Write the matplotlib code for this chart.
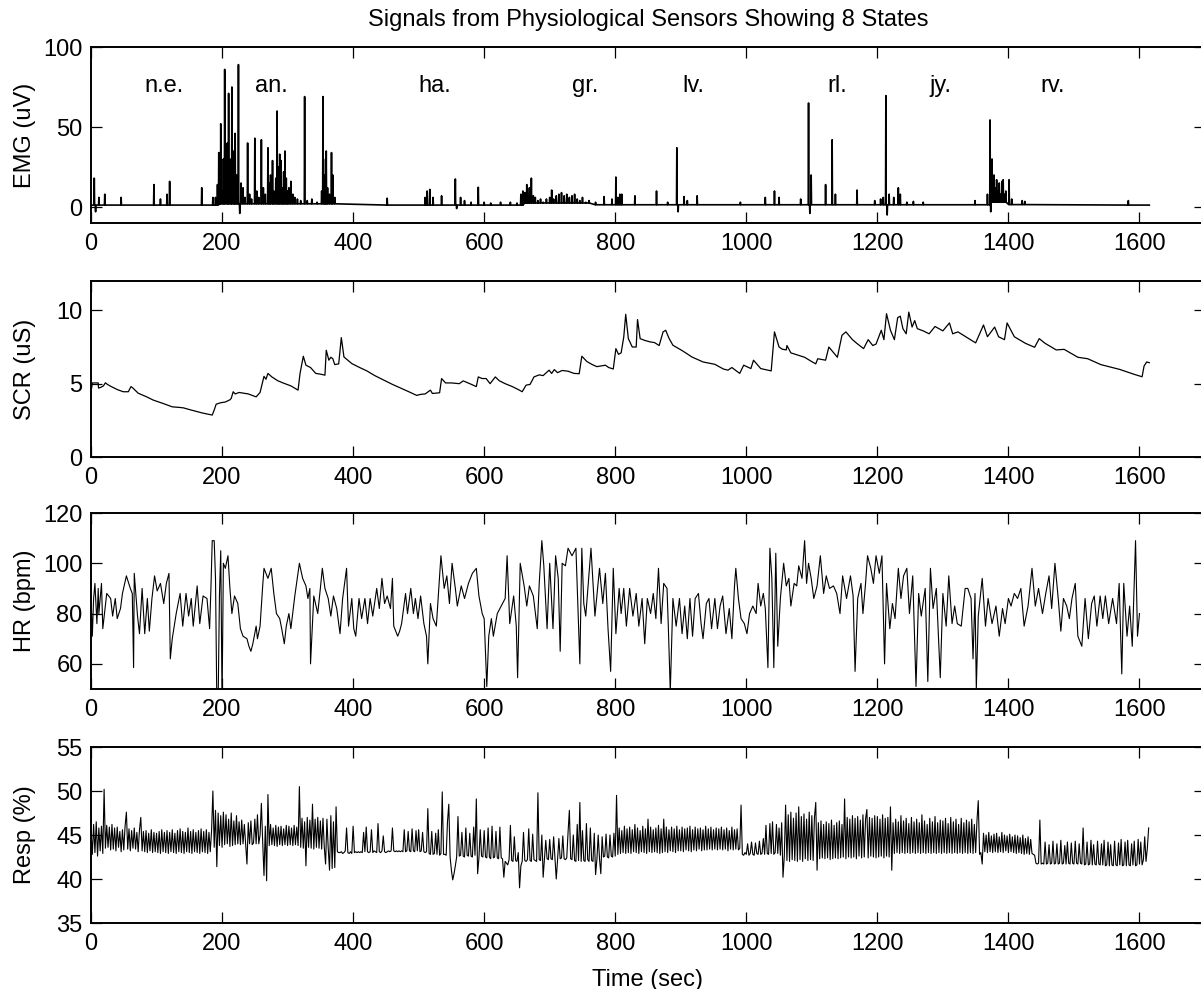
import numpy as np
import matplotlib
matplotlib.use('Agg')
import matplotlib.pyplot as plt

plt.rcParams['font.family'] = ['Liberation Sans', 'DejaVu Sans']

# ---- data ----
title = 'Signals from Physiological Sensors Showing 8 States'
state_names = ['n.e.', 'an.', 'ha.', 'gr.', 'lv.', 'rl.', 'jy.', 'rv.']
state_pos = [111, 275, 525, 754, 919, 1139, 1297, 1468]

# EMG: baseline level per segment + individual bursts (time, uV)
emg_base_start = [0, 195, 375, 660, 765, 1372, 1400, 1430]
emg_base_level = [1.2, 2.0, 1.2, 2.5, 1.4, 3.0, 1.5, 1.2]
emg_end = 1615
emg_spikes = [
    (5, 18), (7, -3), (12, 6), (21, 8), (46, 6), (96, 14), (106, 5), (116, 8), (120, 16),
    (169, 12), (186, 6), (190, 6), (193, 14), (195, 34), (197, 20), (198, 52), (200, 10),
    (202, 30), (204, 86), (206, 25), (208, 40), (210, 71), (212, 30), (214, 20), (215, 75),
    (217, 35), (219, 12), (220, 46), (222, 20), (224, 8), (225, 89), (227, -4), (229, 15),
    (232, 12), (235, 6), (239, 40), (242, 8), (245, 5), (250, 43), (253, 10), (256, 6),
    (260, 42), (263, 12), (266, 8), (270, 37), (272, 15), (274, 20), (277, 29), (279, 10),
    (282, 18), (284, 60), (286, 25), (288, 33), (290, 29), (292, 12), (294, 22), (296, 35),
    (298, 18), (300, 10), (302, 12), (305, 16), (308, 8), (311, 6), (315, 5), (320, 4),
    (326, 69), (330, 4), (337, 5), (345, 3), (352, 10), (354, 69), (356, 20), (358, 30),
    (359, 35), (361, 12), (364, 8), (367, 34), (369, 20), (372, 6),
    (452, 5.5), (510, 6), (513, 10), (517, 11), (522, 6), (535, 7), (556, 17.5), (558, -1),
    (564, 6), (570, 4), (580, 3), (591, 12.3), (600, 3), (610, 2.5), (625, 3), (640, 3),
    (650, 2.5), (656, 8), (659, 10), (662, 9), (665, 14), (667, 8), (669, 12), (672, 18),
    (675, 7), (678, 6), (682, 4), (686, 5), (690, 3), (695, 5), (700, 6), (703, 10.6),
    (706, 5), (710, 7), (714, 8), (718, 9), (722, 7), (726, 8), (730, 6), (734, 7),
    (738, 8), (742, 5), (746, 4), (750, 6), (755, 3), (760, 4), (770, 3), (783, 6.5),
    (795, 5), (801, 18.7), (804, 6), (807, 8), (810, 8), (830, 7), (863, 10), (880, 3),
    (894, 37), (896, -3), (905, 6.5), (910, 4), (925, 7), (991, 3), (1029, 6), (1043, 10),
    (1050, 6), (1083, 5), (1095, 65), (1097, -4), (1099, 20), (1121, 14), (1131, 42),
    (1136, 8), (1169, 10.6), (1196, 4), (1205, 5), (1209, 6), (1213, 69.6), (1215, -5),
    (1218, 8), (1225, 6), (1232, 12), (1235, 8), (1245, 3), (1255, 3.5), (1270, 3),
    (1349, 4), (1368, 8), (1372, 54.4), (1373, -3), (1375, 30), (1377, 18), (1378, 20),
    (1380, 12), (1382, 17), (1384, 10), (1386, 15), (1388, 8), (1390, 16), (1392, 17),
    (1394, 8), (1396, 10), (1401, 17), (1405, 5), (1421, 4), (1425, 3.5), (1583, 4),
]

# SCR (time, uS)
scr_pts = [
    (0, 4.6), (1, 4.7), (2, 5.05), (11, 5.05), (11.5, 4.7), (15, 4.75), (19, 4.85), (22, 5.06),
    (25, 4.95), (31, 4.8), (40, 4.6), (49, 4.45), (57, 4.45), (61, 4.8), (64, 4.7), (72, 4.35),
    (85, 4.1), (95, 3.88), (110, 3.65), (124, 3.42), (135, 3.38), (141, 3.35), (153, 3.2),
    (170, 3.0), (185, 2.86), (188, 3.2), (191, 3.6), (198, 3.7), (205, 3.75), (212, 3.9),
    (214, 4.0), (217, 4.45), (220, 4.3), (226, 4.4), (240, 4.3), (252, 4.1), (258, 4.4),
    (264, 5.5), (267, 5.3), (270, 5.7), (276, 5.46), (285, 5.2), (293, 5.05), (305, 4.85),
    (316, 4.56), (319, 5.7), (324, 6.87), (328, 6.26), (335, 6.1), (343, 5.7), (350, 5.65),
    (357, 5.58), (359, 7.28), (363, 6.6), (366, 6.8), (369, 6.7), (372, 6.3), (378, 6.35),
    (382, 8.14), (386, 6.82), (398, 6.37), (410, 6.1), (421, 5.87), (433, 5.55), (445, 5.28),
    (460, 4.95), (474, 4.67), (485, 4.45), (497, 4.2), (503, 4.27), (510, 4.3), (518, 4.56),
    (521, 4.33), (532, 4.38), (535, 5.35), (541, 5.05), (550, 5.05), (562, 5.0), (568, 5.19),
    (578, 5.0), (588, 4.8), (591, 5.46), (597, 5.35), (603, 5.35), (609, 5.0), (617, 5.46),
    (623, 5.2), (632, 5.0), (643, 4.8), (652, 4.6), (658, 4.45), (664, 4.9), (670, 4.95),
    (676, 5.46), (684, 5.6), (690, 5.55), (699, 5.92), (703, 5.7), (707, 5.96), (712, 5.75),
    (719, 5.9), (728, 5.85), (737, 5.7), (745, 5.68), (749, 6.87), (757, 6.5), (765, 6.3),
    (772, 6.16), (785, 6.26), (790, 6.1), (797, 6.0), (801, 7.39), (805, 7.0), (809, 7.1),
    (813, 8.18), (816, 9.73), (820, 8.07), (826, 7.5), (832, 7.5), (834, 9.37), (838, 8.07),
    (845, 7.95), (853, 7.85), (860, 7.8), (867, 7.6), (873, 8.53), (877, 8.64), (882, 8.1),
    (888, 7.62), (903, 7.23), (917, 6.82), (934, 6.48), (952, 6.32), (965, 6.0), (972, 5.92),
    (978, 6.1), (990, 5.7), (996, 6.26), (1007, 6.03), (1011, 6.6), (1022, 6.03), (1038, 5.87),
    (1043, 8.53), (1050, 7.5), (1055, 7.35), (1061, 7.3), (1062, 7.6), (1068, 7.1), (1089, 6.8),
    (1100, 6.5), (1106, 6.35), (1109, 6.7), (1121, 6.6), (1126, 7.5), (1139, 6.8), (1146, 8.3),
    (1152, 8.53), (1162, 8.0), (1170, 7.7), (1179, 7.39), (1186, 8.0), (1193, 7.6), (1198, 7.7),
    (1206, 8.64), (1210, 8.0), (1214, 9.77), (1220, 8.64), (1226, 8.0), (1231, 9.5), (1235, 9.6),
    (1239, 8.75), (1244, 8.4), (1248, 9.88), (1253, 8.86), (1257, 9.3), (1261, 8.75), (1270, 8.6),
    (1279, 8.4), (1288, 8.9), (1300, 8.6), (1310, 9.14), (1315, 8.4), (1323, 8.53), (1335, 8.2),
    (1350, 7.78), (1362, 9.0), (1368, 8.2), (1379, 8.86), (1385, 8.2), (1394, 8.0), (1398, 9.14),
    (1409, 8.2), (1426, 7.75), (1440, 7.48), (1447, 8.07), (1456, 7.75), (1473, 7.3), (1485, 7.34),
    (1506, 6.8), (1521, 6.7), (1541, 6.3), (1570, 5.97), (1591, 5.65), (1604, 5.47), (1607, 6.2),
    (1611, 6.48), (1615, 6.43),
]

# HR (time, bpm)
hr_pts = [
    (0, 87), (2, 71), (4, 86), (6, 92), (9, 76), (11, 90), (12, 80), (16, 92), (18, 74), (24, 88),
    (30, 86), (33, 79), (37, 86), (40, 78), (45, 82), (48, 88), (54, 95), (60, 90), (63, 88),
    (65, 58.5), (66, 96), (71, 79), (74, 72), (78, 90), (82, 72), (86, 86), (89, 73), (93, 86),
    (97, 95), (101, 89), (106, 92), (111, 84), (115, 92), (119, 96), (121, 62), (124, 70),
    (130, 80), (136, 88), (140, 75), (145, 88), (149, 79), (153, 86), (156, 75), (162, 91),
    (166, 76), (171, 87), (177, 86), (181, 74), (183, 90), (185, 109), (188, 109), (190, 94),
    (192, 45), (194, 45), (196, 87), (198, 105), (200, 45), (202, 100), (205, 98), (209, 103),
    (212, 90), (215, 80), (219, 87), (224, 84), (228, 74), (232, 71), (238, 70), (241, 67),
    (244, 65), (247, 68), (252, 75), (254, 70), (258, 75), (262, 91), (264, 98), (270, 94),
    (275, 98), (279, 88), (283, 80), (288, 78), (291, 74), (295, 68), (298, 75), (302, 80),
    (305, 74), (311, 87), (318, 100), (323, 94), (328, 91), (331, 86), (334, 90), (335, 60),
    (340, 87), (346, 80), (350, 90), (353, 98), (357, 90), (362, 86), (366, 79), (370, 87),
    (375, 82), (380, 72), (384, 86), (390, 98), (393, 75), (398, 86), (401, 74), (404, 71),
    (409, 86), (413, 78), (418, 86), (422, 76), (426, 86), (430, 79), (436, 90), (440, 82),
    (444, 94), (448, 84), (452, 87), (457, 82), (460, 94), (462, 75), (468, 71), (471, 73),
    (474, 76), (480, 88), (483, 80), (488, 90), (492, 80), (495, 86), (499, 78), (503, 87),
    (508, 76), (512, 71), (514, 60), (518, 84), (522, 78), (527, 75), (534, 103), (539, 90),
    (543, 95), (547, 84), (551, 100), (556, 90), (559, 83), (565, 91), (570, 86), (576, 92),
    (582, 96), (588, 98), (592, 87), (597, 80), (600, 78), (604, 51), (607, 71), (611, 78),
    (614, 71), (620, 80), (626, 83), (632, 86), (635, 103), (639, 76), (645, 87), (649, 75),
    (651, 54.5), (655, 100), (661, 91), (665, 83), (669, 91), (675, 87), (681, 74), (684, 92),
    (688, 109), (691, 99), (696, 74), (700, 100), (705, 74), (709, 103), (713, 94), (716, 65),
    (719, 100), (724, 99), (728, 106), (734, 103), (740, 106), (746, 60), (749, 106), (752, 84),
    (755, 79), (763, 106), (769, 79), (776, 98), (781, 84), (785, 96), (789, 74), (793, 57),
    (797, 98), (801, 72), (806, 90), (809, 80), (813, 90), (817, 75), (822, 90), (827, 79),
    (832, 88), (836, 75), (841, 86), (845, 68), (849, 86), (854, 80), (858, 88), (862, 78),
    (866, 98), (870, 76), (874, 92), (879, 90), (881, 75), (884, 49), (888, 86), (893, 75),
    (898, 86), (902, 72), (906, 83), (910, 70), (914, 86), (918, 71), (922, 86), (927, 88),
    (931, 76), (934, 70), (939, 84), (943, 86), (947, 74), (952, 86), (956, 74), (960, 83),
    (964, 87), (969, 72), (974, 82), (978, 70), (982, 91), (984, 98), (988, 86), (992, 78),
    (997, 76), (1001, 72), (1005, 80), (1010, 83), (1015, 80), (1018, 92), (1022, 83),
    (1026, 88), (1029, 82), (1033, 58.5), (1036, 106), (1039, 94), (1042, 58.5), (1045, 104),
    (1048, 67), (1052, 86), (1057, 100), (1061, 91), (1065, 94), (1068, 83), (1073, 92),
    (1077, 91), (1080, 99), (1085, 94), (1089, 109), (1092, 92), (1095, 100), (1099, 94),
    (1103, 86), (1108, 91), (1113, 103), (1118, 88), (1122, 95), (1127, 90), (1133, 91),
    (1138, 88), (1143, 80), (1147, 95), (1153, 86), (1159, 95), (1163, 87), (1166, 57),
    (1170, 86), (1175, 92), (1178, 80), (1182, 92), (1185, 103), (1190, 98), (1194, 92),
    (1198, 103), (1203, 96), (1207, 103), (1211, 60), (1214, 92), (1219, 74), (1223, 84),
    (1227, 78), (1232, 98), (1236, 86), (1240, 95), (1245, 98), (1249, 80), (1254, 95),
    (1259, 51), (1263, 88), (1267, 79), (1273, 90), (1277, 53), (1281, 98), (1285, 82),
    (1290, 90), (1296, 54.5), (1300, 88), (1305, 75), (1309, 95), (1314, 76), (1318, 83),
    (1322, 76), (1328, 75), (1334, 90), (1338, 90), (1343, 86), (1346, 62), (1349, 88),
    (1351, 50), (1354, 79), (1360, 94), (1365, 75), (1369, 86), (1375, 76), (1381, 83),
    (1386, 71), (1391, 82), (1395, 76), (1400, 86), (1404, 83), (1409, 88), (1414, 86),
    (1419, 90), (1424, 75), (1430, 83), (1436, 98), (1441, 83), (1446, 90), (1452, 80),
    (1457, 88), (1462, 95), (1466, 82), (1471, 100), (1476, 86), (1480, 73), (1484, 86),
    (1489, 83), (1493, 78), (1497, 86), (1502, 92), (1506, 71), (1512, 67), (1517, 86),
    (1522, 70), (1527, 84), (1531, 87), (1535, 75), (1540, 87), (1544, 78), (1548, 87),
    (1553, 76), (1559, 86), (1565, 76), (1569, 92), (1573, 56), (1576, 92), (1581, 71),
    (1585, 83), (1589, 67), (1594, 109), (1597, 71), (1600, 80),
]

# Resp (%), one reading every 2 s, split by 200 s
resp_step = 2
resp_seg1 = [45.5, 42.8, 46.2, 43.0, 46.5, 42.6, 45.8, 43.2, 46.0, 42.9,
             50.2, 43.5, 46.1, 43.6, 45.9, 43.3, 46.2, 43.4, 45.8, 43.2,
             45.9, 43.6, 45.4, 43.1, 45.6, 43.3, 46.0, 47.6, 43.4, 45.7,
             43.2, 45.5, 43.5, 45.8, 43.4, 45.3, 43.1, 45.6, 47.0, 43.2,
             45.4, 43.1, 45.5, 43.0, 45.2, 43.2, 45.6, 43.0, 45.3, 43.1,
             45.2, 43.0, 45.4, 42.9, 45.6, 43.1, 45.3, 43.0, 45.5, 42.9,
             45.3, 43.1, 45.6, 43.0, 45.2, 42.9, 45.5, 43.1, 45.7, 43.0,
             45.4, 42.9, 45.3, 43.1, 45.8, 43.0, 45.4, 42.9, 45.6, 43.1,
             45.3, 43.0, 45.5, 42.9, 45.7, 43.1, 45.4, 43.0, 45.6, 42.9,
             45.3, 43.1, 45.5, 50.0, 43.6, 47.8, 41.4, 47.5, 43.8, 47.2]
resp_seg2 = [43.6, 47.6, 43.9, 47.3, 44.0, 46.8, 43.7, 47.5, 43.8, 46.6,
             43.9, 47.2, 44.0, 46.5, 43.9, 46.7, 44.0, 46.2, 43.9, 41.7,
             46.4, 44.0, 46.6, 43.9, 44.1, 46.8, 44.0, 47.3, 44.0, 45.0,
             48.6, 44.2, 40.4, 46.0, 39.8, 49.6, 43.8, 46.2, 43.9, 45.8,
             43.8, 46.1, 43.7, 45.9, 43.9, 46.0, 43.8, 45.7, 43.9, 46.1,
             43.8, 46.0, 43.9, 45.8, 43.8, 46.1, 43.9, 45.9, 43.8, 50.5,
             43.6, 46.9, 43.5, 46.5, 41.5, 47.0, 43.6, 46.7, 43.5, 48.5,
             43.4, 46.8, 43.6, 47.0, 43.5, 46.6, 43.4, 46.9, 43.6, 41.7,
             46.8, 43.5, 41.0, 47.2, 41.2, 46.5, 41.3, 48.2, 43.1, 43.0,
             43.0, 43.1, 42.9, 43.0, 43.2, 45.8, 43.0, 42.9, 43.1, 42.9]
resp_seg3 = [46.0, 43.0, 43.1, 43.0, 43.1, 43.0, 43.1, 43.0, 45.3, 43.1,
             45.9, 43.1, 43.0, 43.1, 45.6, 43.0, 43.2, 43.1, 43.0, 46.3,
             43.1, 43.0, 43.2, 44.9, 43.1, 43.0, 43.1, 43.2, 43.1, 43.2,
             45.8, 43.2, 43.1, 43.2, 43.1, 43.2, 43.1, 43.2, 43.1, 45.6,
             43.1, 43.2, 45.4, 43.2, 43.1, 45.7, 43.2, 43.1, 45.5, 43.2,
             45.6, 43.1, 43.2, 45.3, 43.1, 43.0, 43.1, 48.0, 42.9, 42.8,
             45.4, 42.8, 42.9, 45.2, 42.8, 45.6, 42.7, 42.9, 49.9, 42.8,
             42.8, 42.7, 46.5, 48.5, 42.5, 41.0, 39.9, 40.6, 41.5, 42.5,
             47.1, 42.6, 42.7, 45.3, 42.6, 42.5, 45.8, 42.7, 42.6, 45.2,
             42.6, 42.5, 45.9, 42.7, 49.1, 40.6, 42.4, 45.6, 42.6, 42.5]
resp_seg4 = [45.5, 42.5, 42.4, 45.8, 42.5, 42.3, 46.0, 42.4, 42.5, 45.4,
             42.4, 42.3, 45.9, 42.4, 42.3, 40.2, 42.0, 41.8, 41.6, 42.2,
             46.1, 42.1, 42.0, 44.8, 42.1, 42.0, 43.0, 39.0, 41.5, 42.0,
             45.3, 42.1, 42.0, 42.2, 45.7, 42.1, 42.0, 45.1, 42.2, 42.1,
             42.0, 49.8, 42.2, 42.1, 45.0, 40.2, 42.3, 44.4, 42.3, 42.2,
             44.5, 42.3, 42.2, 44.8, 42.3, 40.0, 42.2, 44.6, 42.3, 42.4,
             44.9, 42.3, 42.2, 42.4, 45.3, 47.8, 42.3, 42.2, 45.0, 42.1,
             42.0, 46.2, 42.1, 48.7, 42.0, 45.5, 42.1, 42.0, 46.3, 42.2,
             42.0, 45.8, 42.1, 42.0, 45.2, 40.5, 42.2, 45.0, 42.3, 40.6,
             44.8, 42.5, 42.6, 45.1, 42.5, 42.4, 45.0, 42.6, 42.5, 45.2]
resp_seg5 = [42.6, 49.5, 42.8, 45.8, 42.9, 45.5, 43.0, 46.0, 42.9, 45.7,
             43.0, 45.9, 42.9, 45.6, 43.1, 46.2, 43.0, 45.8, 42.9, 45.5,
             43.1, 46.0, 43.0, 45.7, 42.9, 46.8, 43.1, 45.9, 43.0, 45.6,
             43.1, 45.8, 43.0, 46.1, 42.9, 45.7, 43.0, 46.8, 43.1, 45.9,
             43.0, 45.6, 43.2, 45.9, 43.1, 45.7, 43.0, 46.0, 43.2, 45.6,
             43.2, 45.9, 43.1, 45.7, 43.3, 45.8, 43.2, 46.0, 43.1, 45.6,
             43.3, 45.9, 43.2, 45.7, 43.4, 45.8, 43.2, 45.6, 43.3, 46.0,
             43.3, 45.7, 43.4, 45.9, 43.3, 45.6, 43.4, 45.8, 43.3, 45.7,
             43.4, 45.9, 43.3, 45.6, 43.4, 45.8, 43.2, 45.5, 43.4, 45.9,
             43.3, 45.6, 43.4, 45.7, 43.3, 43.5, 48.4, 42.8, 42.7, 43.0]
resp_seg6 = [42.8, 44.0, 42.7, 42.9, 44.2, 42.8, 42.7, 44.1, 42.9, 42.8,
             44.3, 42.8, 42.9, 44.6, 42.8, 46.1, 42.9, 42.8, 46.3, 42.9,
             46.5, 42.8, 43.0, 46.2, 42.9, 45.8, 42.7, 46.4, 40.2, 42.6,
             48.4, 42.1, 47.3, 42.0, 47.6, 42.2, 46.9, 42.1, 47.5, 42.0,
             48.2, 42.2, 47.1, 42.0, 47.4, 42.3, 46.8, 42.1, 47.6, 42.2,
             47.2, 42.1, 47.0, 48.7, 41.0, 46.4, 42.3, 46.6, 42.4, 46.2,
             42.3, 46.5, 42.4, 46.3, 42.2, 46.7, 42.3, 46.1, 42.4, 46.4,
             42.3, 46.6, 42.4, 46.2, 42.5, 49.1, 42.3, 47.0, 42.5, 46.8,
             42.4, 47.2, 42.5, 46.9, 42.3, 47.1, 42.6, 46.7, 42.4, 47.3,
             42.5, 46.8, 47.9, 42.4, 47.0, 42.6, 46.9, 42.5, 47.2, 42.4]
resp_seg7 = [47.1, 42.5, 46.8, 42.6, 47.3, 42.4, 46.9, 42.6, 47.0, 42.5,
             48.2, 41.0, 46.4, 42.9, 46.8, 43.0, 46.5, 42.9, 47.2, 43.0,
             46.6, 42.9, 46.9, 43.0, 46.3, 42.9, 47.0, 43.0, 46.5, 42.9,
             46.8, 43.0, 46.4, 42.9, 47.3, 43.0, 46.6, 42.9, 46.2, 43.0,
             46.9, 42.9, 46.5, 43.0, 47.1, 42.9, 46.4, 43.0, 46.7, 42.9,
             46.6, 43.0, 46.9, 42.9, 46.3, 43.0, 47.0, 42.9, 46.5, 43.0,
             46.8, 42.9, 46.2, 43.0, 46.9, 42.9, 46.4, 43.0, 46.7, 42.9,
             46.5, 43.0, 46.8, 42.9, 46.2, 43.0, 46.6, 48.9, 42.8, 43.0,
             41.7, 45.2, 43.1, 45.0, 43.0, 45.3, 43.1, 44.9, 43.0, 45.1,
             43.1, 45.2, 43.0, 44.8, 43.1, 45.3, 43.0, 45.0, 43.2, 44.9]
resp_seg8 = [43.0, 45.1, 43.1, 44.8, 43.0, 45.0, 42.9, 44.9, 43.0, 44.7,
             42.9, 45.0, 42.8, 44.6, 42.9, 44.8, 42.8, 44.5, 42.9, 42.8,
             42.7, 41.8, 41.7, 41.8, 46.7, 41.7, 41.8, 41.7, 44.2, 41.7,
             41.8, 43.9, 41.7, 41.8, 44.3, 41.7, 41.8, 44.0, 41.7, 41.8,
             44.4, 41.7, 41.8, 43.8, 41.7, 44.2, 41.8, 41.7, 44.1, 41.8,
             41.7, 44.3, 41.8, 41.7, 44.0, 41.8, 41.7, 45.8, 41.6, 41.7,
             44.2, 41.6, 41.7, 44.4, 41.6, 43.9, 41.7, 41.6, 44.3, 41.7,
             41.6, 44.0, 41.6, 44.4, 41.5, 41.6, 44.2, 41.5, 43.9, 41.6,
             41.5, 44.3, 41.6, 41.5, 44.1, 41.6, 44.5, 41.5, 41.6, 44.2,
             41.5, 44.4, 41.6, 41.5, 44.0, 41.6, 44.3, 41.5, 41.6, 44.5,
             41.7, 44.2, 41.6, 42.2, 44.8, 42.0, 43.5, 45.8]

# ---- assemble series ----
def emg_base(t):
    i = np.searchsorted(emg_base_start, t, side='right') - 1
    return emg_base_level[i]

emg_t, emg_v = [0], [emg_base(0)]
for ts, val in emg_spikes:
    emg_t += [ts - 0.5, ts, ts + 0.5]
    emg_v += [emg_base(ts - 0.5), val, emg_base(ts + 0.5)]
emg_t.append(emg_end)
emg_v.append(emg_base(emg_end))

scr_t, scr_v = zip(*scr_pts)
hr_t, hr_v = zip(*hr_pts)
resp_v = (resp_seg1 + resp_seg2 + resp_seg3 + resp_seg4 +
          resp_seg5 + resp_seg6 + resp_seg7 + resp_seg8)
resp_t = np.arange(len(resp_v)) * resp_step

# ---- figure ----
W, H = 1201.0, 989.0
fig = plt.figure(figsize=(W / 100, H / 100), dpi=100)
FS = 17

def panel(top, ylim, yticks, ylabel):
    ax = fig.add_axes([91 / W, 1 - (top + 176) / H, 1114 / W, 176 / H])
    ax.set_xlim(0, 1700)
    ax.set_ylim(*ylim)
    ax.set_xticks(range(0, 1601, 200))
    ax.set_yticks(yticks)
    ax.tick_params(direction='in', top=True, right=True, length=8, width=0.9,
                   labelsize=FS)
    ax.tick_params(axis='x', pad=7)
    ax.tick_params(axis='y', pad=6)
    for s in ax.spines.values():
        s.set_linewidth(1.4)
    ax.set_ylabel(ylabel, fontsize=FS, va='center')
    ax.yaxis.set_label_coords(-66 / 1114, 0.5)
    return ax

ax1 = panel(47, (-10, 100), [0, 50, 100], 'EMG (uV)')
ax1.plot(emg_t, emg_v, color='black', lw=1.2)
for name, pos in zip(state_names, state_pos):
    ax1.text(pos, 72, name, ha='center', va='baseline', fontsize=FS)

ax2 = panel(281, (0, 12), [0, 5, 10], 'SCR (uS)')
ax2.plot(scr_t, scr_v, color='black', lw=0.9)

ax3 = panel(513, (50, 120), [60, 80, 100, 120], 'HR (bpm)')
ax3.plot(hr_t, hr_v, color='black', lw=0.8)

ax4 = panel(747, (35, 55), [35, 40, 45, 50, 55], 'Resp (%)')
ax4.plot(resp_t, resp_v, color='black', lw=0.8)
ax4.set_xlabel('Time (sec)', fontsize=FS, va='center')
ax4.xaxis.set_label_coords(0.5, -57 / 176)

fig.text(648 / W, 1 - 20 / H, title, ha='center', va='center', fontsize=FS)

fig.savefig('out.png', dpi=100)
